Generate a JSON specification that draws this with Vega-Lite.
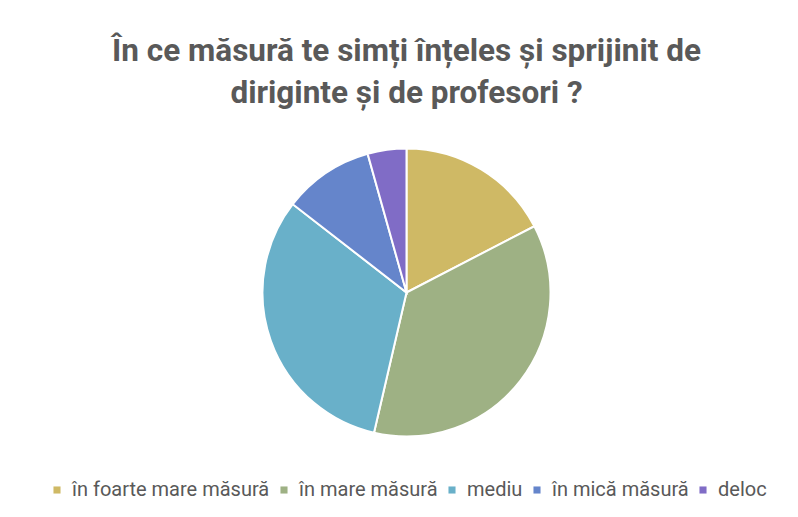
{
  "$schema": "https://vega.github.io/schema/vega-lite/v6.json",
  "width": 798,
  "height": 517,
  "autosize": {"type": "fit", "contains": "padding"},
  "padding": {"top": 35, "bottom": 17, "left": 15, "right": 0},
  "background": "#ffffff",
  "title": {
    "text": ["În ce măsură te simți înțeles și sprijinit de", "diriginte și de profesori ?"],
    "font": "Roboto",
    "fontSize": 31.5,
    "fontWeight": "bold",
    "color": "#595959",
    "lineHeight": 42,
    "anchor": "middle",
    "offset": 8
  },
  "data": {
    "values": [
      {"category": "în foarte mare măsură", "count": 12, "order": 1},
      {"category": "în mare măsură", "count": 25, "order": 2},
      {"category": "mediu", "count": 22, "order": 3},
      {"category": "în mică măsură", "count": 7, "order": 4},
      {"category": "deloc", "count": 3, "order": 5}
    ]
  },
  "mark": {"type": "arc", "outerRadius": 144, "stroke": "#ffffff", "strokeWidth": 2},
  "encoding": {
    "theta": {"field": "count", "type": "quantitative", "stack": true},
    "order": {"field": "order", "type": "quantitative"},
    "color": {
      "field": "category",
      "type": "nominal",
      "sort": ["în foarte mare măsură", "în mare măsură", "mediu", "în mică măsură", "deloc"],
      "scale": {
        "domain": ["în foarte mare măsură", "în mare măsură", "mediu", "în mică măsură", "deloc"],
        "range": ["#CFB965", "#9EB184", "#69B0C9", "#6585CB", "#806CC6"]
      },
      "legend": {
        "orient": "bottom",
        "direction": "horizontal",
        "title": null,
        "symbolType": "square",
        "symbolSize": 50,
        "symbolStrokeWidth": 0,
        "labelFont": "Roboto",
        "labelFontSize": 20,
        "labelColor": "#595959",
        "labelLimit": 400,
        "columnPadding": 4,
        "labelOffset": 5,
        "offset": 12
      }
    }
  },
  "config": {
    "view": {"stroke": null},
    "legend": {"layout": {"bottom": {"anchor": "middle"}}}
  }
}
